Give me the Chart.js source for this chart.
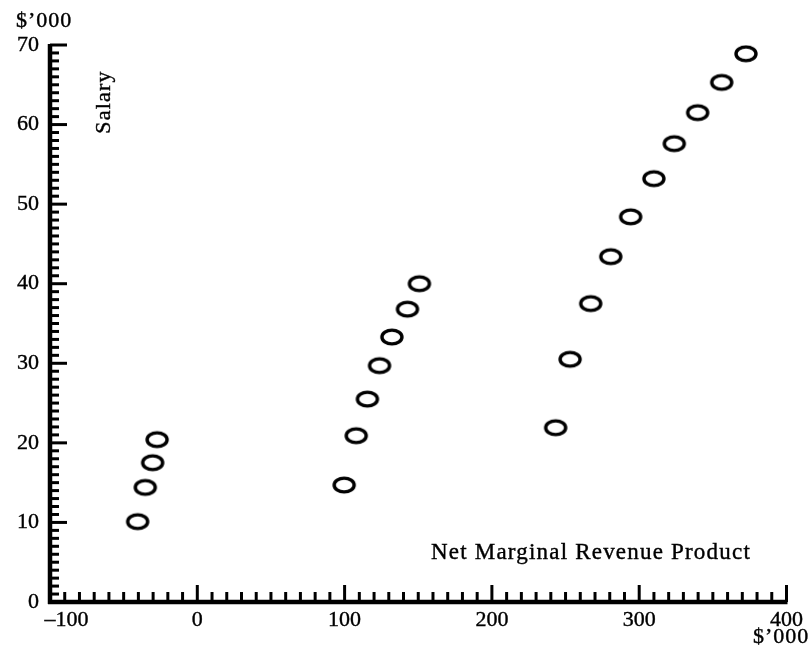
<!DOCTYPE html>
<html lang="en">
<head>
    <meta charset="UTF-8">
    <title>Salary vs Net Marginal Revenue Product</title>
    <script src="https://cdn.jsdelivr.net/npm/chart.js"></script>
    <style>
        html, body { margin: 0; padding: 0; background: #fff; }
        canvas { display: block; }
    </style>
</head>
<body>
    <canvas id="chart" width="808" height="652"></canvas>

    <script>
        // net marginal revenue product ($'000) and salary ($'000), one pair per player
        const nmrp = [-40.5, -35.3, -30.3, -27.3,
                      99.7, 107.9, 115.5, 123.7, 132.1, 142.7, 150.8,
                      243.3, 253.1, 267.1, 280.7, 294.2, 310, 323.8, 339.7, 356, 372.5];
        const salary = [10.1, 14.4, 17.5, 20.4,
                        14.7, 20.9, 25.5, 29.7, 33.3, 36.8, 40.0,
                        21.9, 30.5, 37.5, 43.4, 48.4, 53.2, 57.6, 61.5, 65.3, 68.9];

        const xTicks = [-100, 0, 100, 200, 300, 400];
        const yTicks = [0, 10, 20, 30, 40, 50, 60, 70];

        const FONT = '"Liberation Serif", "Times New Roman", serif';
        const INK = '#000';

        // open ellipse marker like the printed one
        function ellipseMarker() {
            const c = document.createElement('canvas');
            c.width = 28; c.height = 22;
            const g = c.getContext('2d');
            g.strokeStyle = INK;
            g.lineWidth = 3.4;
            g.beginPath();
            g.ellipse(14, 11, 10, 6.9, 0, 0, Math.PI * 2);
            g.stroke();
            return c;
        }

        function label(ctx, text, x, y) {
            ctx.fillText(text, x, y);
            ctx.strokeText(text, x, y);
        }

        // axes drawn by hand: thick lines, ticks pointing inwards
        const axesPlugin = {
            id: 'axesPlugin',
            beforeDatasetsDraw(chart) {
                const ctx = chart.ctx;
                const x = chart.scales.x, y = chart.scales.y;
                const x0 = x.getPixelForValue(x.min);
                const x1 = x.getPixelForValue(x.max);
                const y0 = y.getPixelForValue(y.min);
                const y1 = y.getPixelForValue(y.max);
                ctx.save();
                ctx.strokeStyle = INK;
                ctx.lineCap = 'butt';

                // minor / major ticks on x, every 10
                ctx.lineWidth = 3;
                for (let v = x.min + 10; v <= x.max; v += 10) {
                    const px = x.getPixelForValue(v);
                    const len = (v % 100 === 0) ? 17 : 10;
                    ctx.beginPath();
                    ctx.moveTo(px, y0);
                    ctx.lineTo(px, y0 - len);
                    ctx.stroke();
                }
                // ticks on y, every 1
                for (let v = y.min + 1; v <= y.max; v += 1) {
                    const py = y.getPixelForValue(v);
                    const len = (v % 10 === 0) ? 17 : 9;
                    ctx.beginPath();
                    ctx.moveTo(x0, py);
                    ctx.lineTo(x0 + len, py);
                    ctx.stroke();
                }

                ctx.lineWidth = 4.5;
                ctx.beginPath();
                ctx.moveTo(x0, y1 - 1);
                ctx.lineTo(x0, y0 + 2);
                ctx.moveTo(x0 - 2, y0);
                ctx.lineTo(x1 + 1, y0);
                ctx.stroke();

                // texts
                ctx.fillStyle = INK;
                ctx.lineWidth = 0.4;
                ctx.textBaseline = 'middle';
                ctx.textAlign = 'left';
                ctx.font = '22px ' + FONT;
                ctx.letterSpacing = '1px';
                label(ctx, '$\u2019000', 16, 21);
                label(ctx, '$\u2019000', 753, 637);
                ctx.font = '23px ' + FONT;
                ctx.letterSpacing = '1.2px';
                label(ctx, 'Net Marginal Revenue Product', 431, 553);

                ctx.translate(104, 102);
                ctx.rotate(-Math.PI / 2);
                ctx.textAlign = 'center';
                ctx.font = '22px ' + FONT;
                ctx.letterSpacing = '1.2px';
                label(ctx, 'Salary', 0, 0);
                ctx.restore();
            }
        };

        const points = nmrp.map((v, i) => ({ x: v, y: salary[i] }));

        const tickFont = { family: FONT, size: 22 };

        new Chart(document.getElementById('chart'), {
            type: 'scatter',
            data: {
                datasets: [{
                    data: points,
                    pointStyle: ellipseMarker(),
                    pointRadius: 11,
                    pointHoverRadius: 11
                }]
            },
            options: {
                responsive: false,
                animation: false,
                devicePixelRatio: 1,
                layout: { padding: { top: 45, right: 21, left: 0, bottom: 0 } },
                plugins: {
                    legend: { display: false },
                    tooltip: { enabled: false }
                },
                scales: {
                    x: {
                        type: 'linear',
                        min: -100,
                        max: 400,
                        afterFit: s => { s.height = 50; },
                        afterBuildTicks: s => { s.ticks = xTicks.map(v => ({ value: v })); },
                        grid: { display: false, drawTicks: false },
                        border: { display: false },
                        ticks: {
                            padding: 5,
                            color: INK,
                            textStrokeColor: INK,
                            textStrokeWidth: 0.4,
                            font: tickFont,
                            maxRotation: 0,
                            // the printed -100 sits to the right of its tick
                            callback: v => v < 0 ? '\u2002\u2002\u2002\u2013' + Math.abs(v) : String(v)
                        }
                    },
                    y: {
                        type: 'linear',
                        min: 0,
                        max: 70,
                        afterFit: s => { s.width = 50; },
                        afterBuildTicks: s => { s.ticks = yTicks.map(v => ({ value: v })); },
                        grid: { display: false, drawTicks: false },
                        border: { display: false },
                        ticks: {
                            padding: 11,
                            color: INK,
                            textStrokeColor: INK,
                            textStrokeWidth: 0.4,
                            font: tickFont,
                            callback: v => String(v)
                        }
                    }
                }
            },
            plugins: [axesPlugin]
        });
    </script>
</body>
</html>
